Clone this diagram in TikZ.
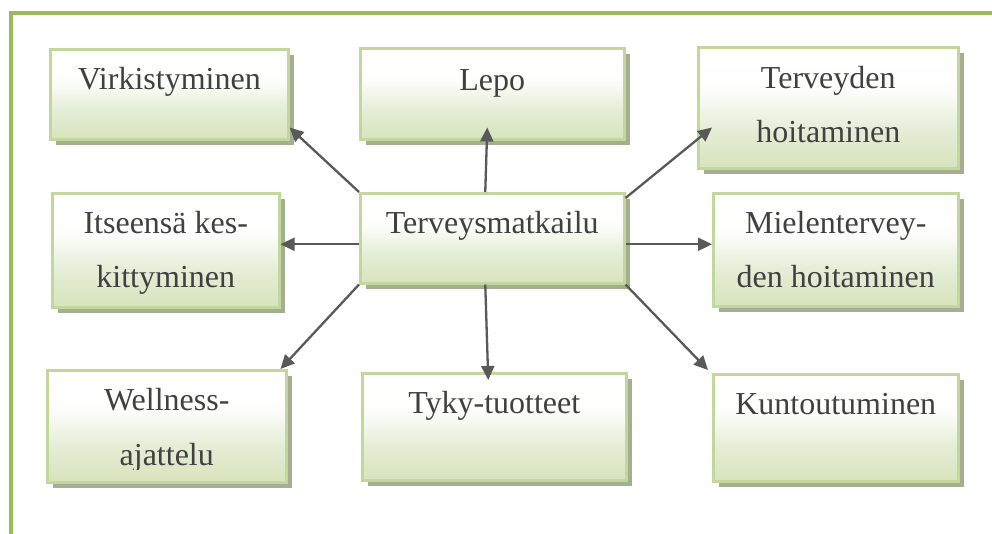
\documentclass[tikz,border=0pt]{standalone}
\usepackage{fontspec}
\setmainfont{Liberation Serif}
\usetikzlibrary{arrows.meta,calc,shadows}

\definecolor{framegreen}{HTML}{9BBB59}
\definecolor{boxedge}{HTML}{C3D69B}
\definecolor{boxfill}{HTML}{D7E3BC}
\definecolor{boxmid}{HTML}{E6EED8}
\definecolor{boxshadow}{HTML}{A4AE93}
\definecolor{inkgray}{HTML}{404040}
\definecolor{arrowgray}{HTML}{595959}

% white at the top fading into pale green towards the bottom
\pgfdeclareverticalshading{boxshade}{100bp}{%
  color(0bp)=(boxfill); color(25bp)=(boxfill); color(42bp)=(boxmid);
  color(58bp)=(white!96!boxfill); color(75bp)=(white); color(100bp)=(white)}

\tikzset{
  x=1pt, y=-1pt,
  topicbox/.style={rectangle, inner sep=0pt, anchor=north west,
    draw=boxedge, line width=2.5pt, shading=boxshade,
    drop shadow={shadow xshift=6pt, shadow yshift=-6pt, opacity=1, fill=boxshadow}},
  boxtext/.style={anchor=base, inner sep=0pt, text=inkgray,
    font=\fontsize{32}{38}\selectfont},
  link/.style={draw=arrowgray, line width=2.3pt,
    -{Triangle[length=14pt,width=13pt]}},
  framestroke/.style={draw=framegreen, line width=4.5pt}
}

\begin{document}
\begin{tikzpicture}
\useasboundingbox (0,0) rectangle (992,533);

% outer frame, open at right and bottom
\draw[framestroke] (11,535) -- (11,13) -- (995,13);

% boxes
\node[topicbox, minimum width=238pt, minimum height=90pt]  (v)  at (49,48)  {};
\node[topicbox, minimum width=264pt, minimum height=91pt]  (l)  at (359,47) {};
\node[topicbox, minimum width=260pt, minimum height=121pt] (t)  at (697,46) {};
\node[topicbox, minimum width=264pt, minimum height=90pt]  (c)  at (359,192) {};
\node[topicbox, minimum width=227pt, minimum height=114pt] (i)  at (51,192) {};
\node[topicbox, minimum width=245pt, minimum height=113pt] (m)  at (712,192) {};
\node[topicbox, minimum width=239pt, minimum height=112pt] (w)  at (46,369) {};
\node[topicbox, minimum width=264pt, minimum height=107pt] (ty) at (361,372) {};
\node[topicbox, minimum width=245pt, minimum height=107pt] (k)  at (712,373) {};

% texts
\node[boxtext] at ($(v.north)+(0,41)$) {Virkistyminen};
\node[boxtext] at ($(l.north)+(0,43)$) {Lepo};
\node[boxtext] at ($(t.north)+(0,42)$) {Terveyden};
\node[boxtext] at ($(t.north)+(0,96)$) {hoitaminen};
\node[boxtext] at ($(c.north)+(0,41)$) {Terveysmatkailu};
\node[boxtext] at ($(i.north)+(0,41)$) {Itseensä kes-};
\node[boxtext] at ($(i.north)+(0,95)$) {kittyminen};
\node[boxtext] at ($(m.north)+(0,41)$) {Mielentervey-};
\node[boxtext] at ($(m.north)+(0,95)$) {den hoitaminen};
\node[boxtext] at ($(w.north)+(0,41)$) {Wellness-};
\begin{scope}
  \clip ($(w.north west)+(2,2)$) rectangle ($(w.south east)+(-2,-14)$);
  \node[boxtext] at ($(w.north)+(0,96)$) {ajattelu};
\end{scope}
\node[boxtext] at ($(ty.north)+(0,41)$) {Tyky-tuotteet};
\node[boxtext] at ($(k.north)+(0,41)$) {Kuntoutuminen};

% connectors from the centre box
\draw[link] (c.north west) -- ($(v.south east)+(0,-13)$);
\draw[link] ($(c.north)+(-7,0)$) -- ($(l.south)+(-5,-13)$);
\draw[link] ($(c.north east)+(0,6)$) -- ($(t.south west)+(15,-42)$);
\draw[link] ($(c.west)+(0,6)$) coordinate (pl) -- (pl -| i.east);
\draw[link] ($(c.east)+(0,6)$) coordinate (pr) -- (pr -| m.west);
\draw[link] (c.south west) -- ($(w.north east)+(-7,0)$);
\draw[link] ($(c.south)+(-7,0)$) -- ($(ty.north)+(-6,8)$);
\draw[link] (c.south east) -- ($(k.north west)+(-4,-3)$);
\end{tikzpicture}
\end{document}
